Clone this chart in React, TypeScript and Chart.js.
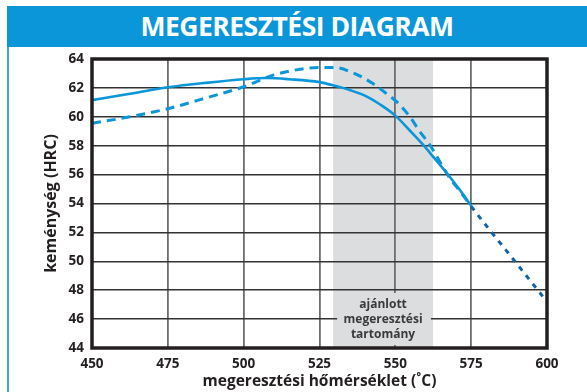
import React, { useEffect, useRef } from "react";
import { Chart, registerables } from "chart.js";

Chart.register(...registerables);

const solidTemps = [450, 462.5, 475, 487.5, 500, 507.5, 515, 525, 530, 535, 540.6, 545, 550, 555, 559.2, 563, 567, 571.3, 575];
const solidHRC = [61.15, 61.6, 62.04, 62.35, 62.6, 62.68, 62.6, 62.4, 62.15, 61.85, 61.4, 60.85, 60.08, 59.0, 58.05, 57.1, 56.09, 54.93, 53.85];

const dashedTemps = [450, 462.5, 475, 487.5, 500, 510, 518.6, 525, 529.6, 536, 542.6, 546.5, 550.4, 554.8, 558, 561.4, 565.3, 568, 571.5, 575, 587.5, 600];
const dashedHRC = [59.55, 60.0, 60.56, 61.3, 62.08, 62.9, 63.29, 63.42, 63.42, 63.05, 62.3, 61.7, 61.05, 60.0, 59.0, 58.05, 56.66, 55.74, 54.8, 53.8, 50.5, 47.2];

const xTicks = [450, 475, 500, 525, 550, 575, 600];
const yTicks = [44, 46, 48, 50, 52, 54, 56, 58, 60, 62, 64];
const rangeStart = 529.5;
const rangeEnd = 562.4;
const rangeLabel = ["ajánlott", "megeresztési", "tartomány"];

const title = "MEGERESZTÉSI DIAGRAM";
const xTitle = "megeresztési hőmérséklet (˚C)";
const yTitle = "keménység (HRC)";

const BLUE = "#0a96d8";
const DARK_BLUE = "#0f63a8";
const FONT = "'Open Sans', 'DejaVu Sans', sans-serif";

const bandPlugin = {
  id: "bandPlugin",
  beforeDraw(chart: any) {
    const { ctx, chartArea, scales } = chart;
    const x0 = scales.x.getPixelForValue(rangeStart);
    const x1 = scales.x.getPixelForValue(rangeEnd);
    ctx.save();
    ctx.fillStyle = "#dcdddf";
    ctx.fillRect(x0, chartArea.top, x1 - x0, chartArea.bottom - chartArea.top);
    ctx.restore();
  },
  beforeDatasetsDraw(chart: any) {
    const { ctx, scales, chartArea } = chart;
    const x0 = scales.x.getPixelForValue(rangeStart);
    const x1 = scales.x.getPixelForValue(rangeEnd);
    const cx = (x0 + x1) / 2;
    ctx.save();
    ctx.fillStyle = "#dcdddf";
    ctx.fillRect(x0 + 4, chartArea.bottom - 55, x1 - x0 - 6, 52);
    ctx.fillStyle = "#3a3a3c";
    ctx.font = "bold 12px " + FONT;
    ctx.textAlign = "center";
    ctx.textBaseline = "middle";
    const ys = [chartArea.bottom - 43, chartArea.bottom - 28, chartArea.bottom - 13];
    rangeLabel.forEach((t, i) => ctx.fillText(t, cx, ys[i]));
    ctx.restore();
  },
  afterDatasetsDraw(chart: any) {
    const { ctx, chartArea } = chart;
    ctx.save();
    ctx.strokeStyle = "#231f20";
    ctx.lineWidth = 3.5;
    ctx.strokeRect(chartArea.left, chartArea.top, chartArea.right - chartArea.left, chartArea.bottom - chartArea.top);
    ctx.restore();
  },
};

export default function App() {
  const ref = useRef<HTMLCanvasElement | null>(null);
  useEffect(() => {
    if (!ref.current) return;
    const chart = new Chart(ref.current, {
      type: "line",
      data: {
        datasets: [
          {
            label: "dashed",
            data: dashedTemps.map((t, i) => ({ x: t, y: dashedHRC[i] })),
            borderColor: BLUE,
            borderWidth: 3,
            borderDash: [9, 6],
            pointRadius: 0,
            cubicInterpolationMode: "monotone",
            fill: false,
            segment: {
              borderColor: (c: any) => (c.p0.parsed.x >= 575 ? DARK_BLUE : BLUE),
              borderDash: (c: any) => (c.p0.parsed.x >= 575 ? [5, 6] : [9, 6]),
            },
          } as any,
          {
            label: "solid",
            data: solidTemps.map((t, i) => ({ x: t, y: solidHRC[i] })),
            borderColor: BLUE,
            borderWidth: 2.6,
            pointRadius: 0,
            cubicInterpolationMode: "monotone",
            fill: false,
          } as any,
        ],
      },
      options: {
        responsive: false,
        animation: false,
        layout: { padding: { left: 0, right: 40, top: 59, bottom: 0 } },
        plugins: { legend: { display: false }, tooltip: { enabled: false } },
        scales: {
          x: {
            type: "linear",
            min: 450,
            max: 600,
            afterBuildTicks: (s: any) => {
              s.ticks = xTicks.map((v) => ({ value: v }));
            },
            afterFit: (s: any) => {
              s.height = 44;
            },
            ticks: { color: "#231f20", font: { family: FONT, size: 13.5, weight: "bold" }, padding: 8, maxRotation: 0 },
            grid: { color: "#6e6e6e", lineWidth: 1.8, drawTicks: false },
            border: { display: false },
            title: {
              display: true,
              text: xTitle,
              color: "#231f20",
              font: { family: FONT, size: 15.5, weight: "bold" },
              padding: { top: 0, bottom: 1 },
            },
          },
          y: {
            type: "linear",
            min: 44,
            max: 64,
            afterBuildTicks: (s: any) => {
              s.ticks = yTicks.map((v) => ({ value: v }));
            },
            afterFit: (s: any) => {
              s.width = 92;
            },
            ticks: { color: "#231f20", font: { family: FONT, size: 13.5, weight: "bold" }, padding: 8 },
            grid: { color: "#333333", lineWidth: 1.5, drawTicks: false },
            border: { display: false },
            title: {
              display: true,
              text: yTitle,
              color: "#231f20",
              font: { family: FONT, size: 16, weight: "bold" },
              padding: { top: 42, bottom: 0 },
            },
          },
        },
      },
      plugins: [bandPlugin],
    } as any);
    return () => chart.destroy();
  }, []);

  return (
    <div style={{ position: "absolute", left: 0, top: 0, width: 587, height: 392, background: "#fff", overflow: "hidden" }}>
      <canvas ref={ref} width={587} height={392} style={{ display: "block", position: "absolute", left: 0, top: 0 }} />
      <div
        style={{
          position: "absolute",
          left: 7,
          top: 6,
          width: 580,
          height: 41,
          background: BLUE,
          color: "#fff",
          fontFamily: FONT,
          fontWeight: 700,
          fontSize: 26.5,
          lineHeight: "41px",
          textAlign: "center",
          letterSpacing: -0.5,
        }}
      >
        {title}
      </div>
      <div style={{ position: "absolute", left: 7, top: 47, width: 2, height: 345, background: "#3aaae0" }} />
    </div>
  );
}
